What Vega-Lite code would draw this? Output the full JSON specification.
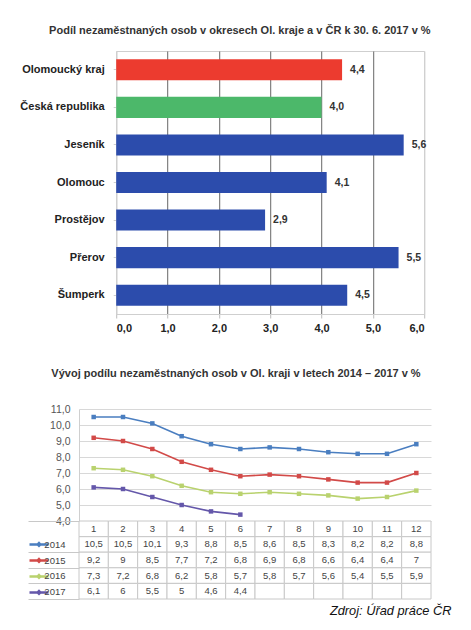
{
  "$schema": "https://vega.github.io/schema/vega-lite/v6.json",
  "padding": {"left": 15, "top": 24, "right": 2, "bottom": 5},
  "background": "white",
  "title": {"text": "Podíl nezaměstnaných osob v okresech Ol. kraje a v ČR k 30. 6. 2017 v %", "anchor": "middle", "dx": 0, "offset": 15, "fontSize": 11},
  "datasets": {
    "bars": [
      {"name": "Olomoucký kraj", "kind": "kraj", "value": 4.4},
      {"name": "Česká republika", "kind": "cr", "value": 4.0},
      {"name": "Jeseník", "kind": "okres", "value": 5.6},
      {"name": "Olomouc", "kind": "okres", "value": 4.1},
      {"name": "Prostějov", "kind": "okres", "value": 2.9},
      {"name": "Přerov", "kind": "okres", "value": 5.5},
      {"name": "Šumperk", "kind": "okres", "value": 4.5}
    ],
    "series": [
      {"year": "2014", "month": 1, "value": 10.5}, {"year": "2014", "month": 2, "value": 10.5}, {"year": "2014", "month": 3, "value": 10.1}, {"year": "2014", "month": 4, "value": 9.3}, {"year": "2014", "month": 5, "value": 8.8}, {"year": "2014", "month": 6, "value": 8.5}, {"year": "2014", "month": 7, "value": 8.6}, {"year": "2014", "month": 8, "value": 8.5}, {"year": "2014", "month": 9, "value": 8.3}, {"year": "2014", "month": 10, "value": 8.2}, {"year": "2014", "month": 11, "value": 8.2}, {"year": "2014", "month": 12, "value": 8.8},
      {"year": "2015", "month": 1, "value": 9.2}, {"year": "2015", "month": 2, "value": 9.0}, {"year": "2015", "month": 3, "value": 8.5}, {"year": "2015", "month": 4, "value": 7.7}, {"year": "2015", "month": 5, "value": 7.2}, {"year": "2015", "month": 6, "value": 6.8}, {"year": "2015", "month": 7, "value": 6.9}, {"year": "2015", "month": 8, "value": 6.8}, {"year": "2015", "month": 9, "value": 6.6}, {"year": "2015", "month": 10, "value": 6.4}, {"year": "2015", "month": 11, "value": 6.4}, {"year": "2015", "month": 12, "value": 7.0},
      {"year": "2016", "month": 1, "value": 7.3}, {"year": "2016", "month": 2, "value": 7.2}, {"year": "2016", "month": 3, "value": 6.8}, {"year": "2016", "month": 4, "value": 6.2}, {"year": "2016", "month": 5, "value": 5.8}, {"year": "2016", "month": 6, "value": 5.7}, {"year": "2016", "month": 7, "value": 5.8}, {"year": "2016", "month": 8, "value": 5.7}, {"year": "2016", "month": 9, "value": 5.6}, {"year": "2016", "month": 10, "value": 5.4}, {"year": "2016", "month": 11, "value": 5.5}, {"year": "2016", "month": 12, "value": 5.9},
      {"year": "2017", "month": 1, "value": 6.1}, {"year": "2017", "month": 2, "value": 6.0}, {"year": "2017", "month": 3, "value": 5.5}, {"year": "2017", "month": 4, "value": 5.0}, {"year": "2017", "month": 5, "value": 4.6}, {"year": "2017", "month": 6, "value": 4.4}, {"year": "2017", "month": 7, "value": null}, {"year": "2017", "month": 8, "value": null}, {"year": "2017", "month": 9, "value": null}, {"year": "2017", "month": 10, "value": null}, {"year": "2017", "month": 11, "value": null}, {"year": "2017", "month": 12, "value": null}
    ]
  },
  "center": true,
  "spacing": 33,
  "resolve": {"scale": {"color": "independent"}, "legend": {"color": "independent"}},
  "vconcat": [
    {
      "width": 308,
      "height": 263,
      "data": {"name": "bars"},
      "view": {"stroke": "#cfcfcf"},
      "encoding": {
        "y": {"field": "name", "type": "nominal", "sort": null,
          "scale": {"paddingInner": 0.44, "paddingOuter": 0.22},
          "axis": {"title": null, "labelFontWeight": "bold", "labelFontSize": 11, "labelColor": "#222", "tickSize": 3, "tickColor": "#cfcfcf", "domainColor": "#cfcfcf", "labelPadding": 9, "minExtent": 100, "maxExtent": 100}},
        "x": {"field": "value", "type": "quantitative",
          "scale": {"domain": [0, 6], "nice": false},
          "axis": {"title": null, "values": [0, 1, 2, 3, 4, 5, 6], "format": ".1f", "labelFontWeight": "bold", "labelFontSize": 11, "labelColor": "#222", "grid": true,
            "gridColor": {"condition": {"test": "datum.value == 0 || datum.value == 6", "value": "#cfcfcf"}, "value": "#666666"},
            "tickSize": 4, "tickColor": "#bbbbbb", "domainColor": "#cfcfcf", "labelPadding": 4, "minExtent": 20, "maxExtent": 20}}
      },
      "layer": [
        {"mark": {"type": "bar"},
          "encoding": {"color": {"field": "kind", "type": "nominal", "scale": {"domain": ["kraj", "cr", "okres"], "range": ["#ec3b2f", "#4cb86a", "#2c4cac"]}, "legend": null}}},
        {"mark": {"type": "text", "align": "left", "dx": 8, "fontWeight": "bold", "fontSize": 10.5, "color": "#333"},
          "encoding": {"text": {"field": "value", "type": "quantitative", "format": ".1f"}}}
      ]
    },
    {
      "spacing": 0,
      "bounds": "flush",
      "resolve": {"legend": {"color": "independent"}},
      "vconcat": [
        {
          "width": 352,
          "height": 112,
          "data": {"name": "series"},
          "transform": [{"filter": "isValid(datum.value)"}],
          "view": {"stroke": null},
          "title": {"text": "Vývoj podílu nezaměstnaných osob v Ol. kraji v letech 2014 – 2017 v %", "dx": -19, "offset": 25, "fontSize": 11},
          "encoding": {
            "x": {"field": "month", "type": "ordinal", "scale": {"type": "point", "padding": 0.5}, "axis": null},
            "color": {"field": "year", "type": "nominal",
              "scale": {"domain": ["2014", "2015", "2016", "2017"], "range": ["#4a7ec0", "#d24a48", "#b9d26e", "#6457aa"]},
              "legend": {"orient": "none", "legendX": -51, "legendY": 127.6, "title": null, "labelExpr": "''", "symbolType": "M-1,0H1M0,-0.14L0.14,0L0,0.14L-0.14,0Z", "symbolSize": 361, "symbolStrokeWidth": 2.5, "clipHeight": 15.6, "rowPadding": 0, "padding": 0, "labelFontSize": 1, "labelOffset": 0, "symbolOffset": 0}}
          },
          "resolve": {"scale": {"y": "independent"}},
          "layer": [
            {"mark": {"type": "line", "strokeWidth": 1.6},
              "encoding": {
                "y": {"field": "value", "type": "quantitative",
                  "scale": {"domain": [4, 11], "nice": false, "zero": false},
                  "axis": {"title": null, "values": [4, 5, 6, 7, 8, 9, 10, 11], "format": ".1f", "labelFontSize": 10.5, "labelColor": "#555", "ticks": false, "labelPadding": 9, "grid": true, "gridColor": "#d8d8d8", "domainColor": "#cfcfcf", "minExtent": 63, "maxExtent": 63}}
              }},
            {"mark": {"type": "point", "shape": "square", "filled": true, "size": 20, "opacity": 1},
              "encoding": {
                "y": {"field": "value", "type": "quantitative",
                  "scale": {"domain": [4, 11], "nice": false, "zero": false},
                  "axis": {"orient": "right", "title": null, "labels": false, "ticks": false, "domain": false, "grid": false, "minExtent": 33, "maxExtent": 33}}
              }}
          ]
        },
        {
          "width": 352,
          "height": 78,
          "data": {"name": "series"},
          "view": {"stroke": null},
          "title": {"text": "Zdroj: Úřad práce ČR", "orient": "bottom", "anchor": "end", "fontStyle": "italic", "fontWeight": "normal", "fontSize": 12.8, "color": "#111", "font": "Liberation Sans", "dx": 20, "offset": 5},
          "encoding": {
            "x": {"field": "month", "type": "ordinal", "scale": {"paddingInner": 0, "paddingOuter": 0}, "axis": null}
          },
          "layer": [
            {"mark": {"type": "rect", "fill": "white", "stroke": "#c8c8c8", "strokeWidth": 1},
              "encoding": {"y": {"field": "year", "type": "nominal",
                "scale": {"domain": ["hdr", "2014", "2015", "2016", "2017"], "paddingInner": 0, "paddingOuter": 0},
                "axis": {"title": null, "labelExpr": "datum.value == 'hdr' ? '' : datum.value", "labelFontSize": 9.5, "labelColor": "#444", "labelAlign": "right", "labelPadding": -37, "tickBand": "extent", "tickSize": 51,
                  "tickColor": {"condition": {"test": "datum.value == 'hdr'", "value": "rgba(0,0,0,0)"}, "value": "#c8c8c8"},
                  "domain": false, "minExtent": 63, "maxExtent": 63}}}},
            {"transform": [{"filter": "datum.year == '2014'"}],
              "mark": {"type": "rect", "fill": "white", "stroke": "#c8c8c8", "strokeWidth": 1},
              "encoding": {"y": {"datum": "hdr", "type": "nominal"}}},
            {"transform": [{"filter": "isValid(datum.value)"}],
              "mark": {"type": "text", "fontSize": 9.5, "color": "#444"},
              "encoding": {"y": {"field": "year", "type": "nominal"}, "text": {"field": "value", "type": "quantitative", "format": ".1~f"}}},
            {"transform": [{"filter": "datum.year == '2014'"}],
              "mark": {"type": "text", "fontSize": 9.5, "color": "#444"},
              "encoding": {"y": {"datum": "hdr", "type": "nominal"}, "text": {"field": "month", "type": "ordinal"}}}
          ]
        }
      ]
    }
  ],
  "config": {
    "font": "Liberation Sans",
    "locale": {"number": {"decimal": ",", "thousands": " ", "grouping": [3], "currency": ["", " Kč"]}},
    "title": {"fontSize": 10, "fontWeight": "bold", "color": "#333", "font": "Liberation Sans"},
    "axis": {"labelFont": "Liberation Sans"}
  }
}
